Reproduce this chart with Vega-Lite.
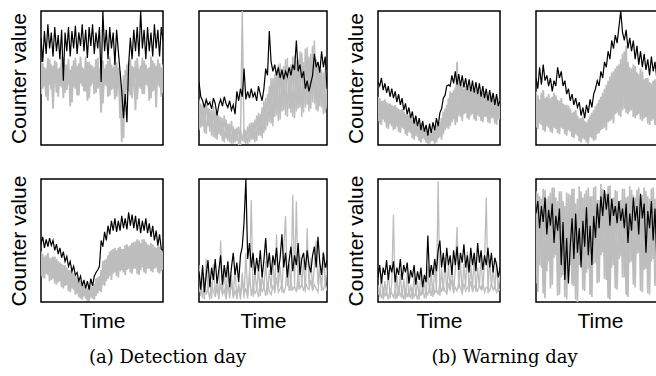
{
"$schema":"https://vega.github.io/schema/vega-lite/v6.json",
"padding":{"left":7,"top":10,"right":0,"bottom":0},
"background":"white",
"config":{
"view":{"stroke":"black","strokeWidth":1.5},
"axis":{"labels":false,"ticks":false,"domain":false,"grid":false,"titleFont":"Liberation Sans","titleFontSize":21,"titleFontWeight":"normal","titleColor":"black"},
"title":{"font":"DejaVu Serif","fontSize":18,"fontWeight":"normal","color":"black","orient":"bottom","anchor":"middle","offset":17}
},
"datasets":{
"p1":[{"t":0,"g":62,"h":38,"b":80},{"t":1,"g":42,"h":61,"b":62},{"t":2,"g":58,"h":44,"b":85},{"t":3,"g":36,"h":57,"b":68},{"t":4,"g":65,"h":33,"b":90},{"t":5,"g":45,"h":64,"b":72},{"t":6,"g":60,"h":41,"b":84},{"t":7,"g":27,"h":59,"b":66},{"t":8,"g":63,"h":46,"b":88},{"t":9,"g":39,"h":62,"b":70},{"t":10,"g":57,"h":36,"b":82},{"t":11,"g":44,"h":58,"b":64},{"t":12,"g":66,"h":43,"b":86},{"t":13,"g":35,"h":65,"b":48},{"t":14,"g":60,"h":39,"b":84},{"t":15,"g":41,"h":60,"b":70},{"t":16,"g":64,"h":45,"b":88},{"t":17,"g":29,"h":56,"b":66},{"t":18,"g":59,"h":32,"b":85},{"t":19,"g":43,"h":63,"b":72},{"t":20,"g":65,"h":42,"b":89},{"t":21,"g":37,"h":59,"b":68},{"t":22,"g":61,"h":37,"b":84},{"t":23,"g":46,"h":66,"b":74},{"t":24,"g":58,"h":44,"b":90},{"t":25,"g":40,"h":57,"b":70},{"t":26,"g":66,"h":40,"b":86},{"t":27,"g":33,"h":62,"b":65},{"t":28,"g":62,"h":35,"b":88},{"t":29,"g":44,"h":60,"b":74},{"t":30,"g":59,"h":46,"b":90},{"t":31,"g":38,"h":58,"b":68},{"t":32,"g":64,"h":39,"b":84},{"t":33,"g":42,"h":65,"b":72},{"t":34,"g":57,"h":43,"b":88},{"t":35,"g":24,"h":61,"b":47},{"t":36,"g":63,"h":31,"b":100},{"t":37,"g":45,"h":57,"b":70},{"t":38,"g":60,"h":44,"b":86},{"t":39,"g":36,"h":63,"b":64},{"t":40,"g":66,"h":37,"b":88},{"t":41,"g":41,"h":60,"b":72},{"t":42,"g":58,"h":42,"b":84},{"t":43,"g":34,"h":64,"b":60},{"t":44,"g":62,"h":36,"b":86},{"t":45,"g":44,"h":58,"b":70},{"t":46,"g":55,"h":20,"b":55},{"t":47,"g":2,"h":45,"b":40},{"t":48,"g":52,"h":5,"b":20},{"t":49,"g":31,"h":56,"b":38},{"t":50,"g":60,"h":41,"b":17},{"t":51,"g":40,"h":62,"b":60},{"t":52,"g":64,"h":37,"b":80},{"t":53,"g":35,"h":59,"b":64},{"t":54,"g":58,"h":45,"b":86},{"t":55,"g":26,"h":63,"b":70},{"t":56,"g":65,"h":34,"b":88},{"t":57,"g":43,"h":57,"b":66},{"t":58,"g":59,"h":42,"b":100},{"t":59,"g":38,"h":65,"b":72},{"t":60,"g":63,"h":38,"b":86},{"t":61,"g":45,"h":60,"b":64},{"t":62,"g":57,"h":44,"b":88},{"t":63,"g":33,"h":58,"b":70},{"t":64,"g":66,"h":35,"b":84},{"t":65,"g":40,"h":63,"b":66},{"t":66,"g":61,"h":41,"b":90},{"t":67,"g":28,"h":59,"b":72},{"t":68,"g":64,"h":45,"b":86},{"t":69,"g":43,"h":61,"b":66},{"t":70,"g":58,"h":36,"b":88},{"t":71,"g":39,"h":60,"b":78}],
"p2":[{"t":0,"g":34,"h":11,"b":47},{"t":1,"g":13,"h":31,"b":36},{"t":2,"g":30,"h":14,"b":33},{"t":3,"g":9,"h":29,"b":28},{"t":4,"g":33,"h":8,"b":34},{"t":5,"g":14,"h":28,"b":30},{"t":6,"g":27,"h":10,"b":32},{"t":7,"g":7,"h":26,"b":27},{"t":8,"g":29,"h":6,"b":35},{"t":9,"g":5,"h":25,"b":31},{"t":10,"g":24,"h":4,"b":22},{"t":11,"g":8,"h":22,"b":30},{"t":12,"g":21,"h":7,"b":34},{"t":13,"g":3,"h":20,"b":29},{"t":14,"g":22,"h":2,"b":36},{"t":15,"g":5,"h":19,"b":31},{"t":16,"g":16,"h":3,"b":28},{"t":17,"g":2,"h":16,"b":33},{"t":18,"g":18,"h":1,"b":26},{"t":19,"g":1,"h":14,"b":30},{"t":20,"g":12,"h":2,"b":23},{"t":21,"g":3,"h":13,"b":40},{"t":22,"g":14,"h":0,"b":33},{"t":23,"g":0,"h":11,"b":42},{"t":24,"g":100,"h":3,"b":36},{"t":25,"g":2,"h":12,"b":57},{"t":26,"g":11,"h":1,"b":34},{"t":27,"g":1,"h":14,"b":40},{"t":28,"g":16,"h":2,"b":35},{"t":29,"g":4,"h":17,"b":42},{"t":30,"g":17,"h":4,"b":36},{"t":31,"g":2,"h":19,"b":39},{"t":32,"g":22,"h":3,"b":33},{"t":33,"g":7,"h":24,"b":44},{"t":34,"g":23,"h":7,"b":38},{"t":35,"g":5,"h":28,"b":33},{"t":36,"g":33,"h":9,"b":42},{"t":37,"g":11,"h":35,"b":57},{"t":38,"g":38,"h":14,"b":52},{"t":39,"g":17,"h":44,"b":85},{"t":40,"g":50,"h":16,"b":62},{"t":41,"g":14,"h":50,"b":55},{"t":42,"g":53,"h":21,"b":60},{"t":43,"g":22,"h":56,"b":52},{"t":44,"g":60,"h":18,"b":58},{"t":45,"g":19,"h":61,"b":50},{"t":46,"g":57,"h":25,"b":56},{"t":47,"g":26,"h":59,"b":49},{"t":48,"g":64,"h":22,"b":55},{"t":49,"g":21,"h":65,"b":51},{"t":50,"g":55,"h":27,"b":58},{"t":51,"g":24,"h":60,"b":52},{"t":52,"g":66,"h":21,"b":60},{"t":53,"g":20,"h":67,"b":56},{"t":54,"g":63,"h":25,"b":78},{"t":55,"g":27,"h":64,"b":55},{"t":56,"g":70,"h":28,"b":60},{"t":57,"g":21,"h":69,"b":50},{"t":58,"g":62,"h":24,"b":55},{"t":59,"g":28,"h":72,"b":42},{"t":60,"g":73,"h":30,"b":48},{"t":61,"g":25,"h":66,"b":40},{"t":62,"g":68,"h":27,"b":46},{"t":63,"g":32,"h":74,"b":52},{"t":64,"g":78,"h":31,"b":68},{"t":65,"g":26,"h":64,"b":58},{"t":66,"g":60,"h":25,"b":62},{"t":67,"g":29,"h":59,"b":54},{"t":68,"g":56,"h":28,"b":70},{"t":69,"g":23,"h":54,"b":58},{"t":70,"g":57,"h":24,"b":66},{"t":71,"g":27,"h":56,"b":42}],
"p3":[{"t":0,"g":36,"h":18,"b":47},{"t":1,"g":16,"h":35,"b":44},{"t":2,"g":33,"h":15,"b":50},{"t":3,"g":19,"h":33,"b":41},{"t":4,"g":34,"h":17,"b":46},{"t":5,"g":13,"h":32,"b":39},{"t":6,"g":31,"h":12,"b":44},{"t":7,"g":16,"h":31,"b":36},{"t":8,"g":30,"h":14,"b":42},{"t":9,"g":11,"h":29,"b":35},{"t":10,"g":30,"h":12,"b":40},{"t":11,"g":14,"h":28,"b":32},{"t":12,"g":27,"h":10,"b":38},{"t":13,"g":9,"h":26,"b":30},{"t":14,"g":27,"h":13,"b":35},{"t":15,"g":12,"h":25,"b":26},{"t":16,"g":23,"h":8,"b":31},{"t":17,"g":7,"h":23,"b":23},{"t":18,"g":22,"h":10,"b":28},{"t":19,"g":9,"h":21,"b":20},{"t":20,"g":19,"h":5,"b":25},{"t":21,"g":4,"h":20,"b":16},{"t":22,"g":19,"h":7,"b":22},{"t":23,"g":6,"h":17,"b":14},{"t":24,"g":15,"h":3,"b":20},{"t":25,"g":2,"h":16,"b":11},{"t":26,"g":15,"h":5,"b":18},{"t":27,"g":4,"h":13,"b":10},{"t":28,"g":11,"h":2,"b":15},{"t":29,"g":1,"h":12,"b":7},{"t":30,"g":13,"h":1,"b":16},{"t":31,"g":3,"h":11,"b":9},{"t":32,"g":10,"h":3,"b":17},{"t":33,"g":1,"h":13,"b":11},{"t":34,"g":15,"h":2,"b":20},{"t":35,"g":5,"h":16,"b":14},{"t":36,"g":17,"h":6,"b":24},{"t":37,"g":4,"h":20,"b":27},{"t":38,"g":25,"h":8,"b":35},{"t":39,"g":11,"h":27,"b":37},{"t":40,"g":30,"h":13,"b":44},{"t":41,"g":12,"h":35,"b":45},{"t":42,"g":40,"h":14,"b":44},{"t":43,"g":17,"h":39,"b":52},{"t":44,"g":41,"h":19,"b":46},{"t":45,"g":15,"h":43,"b":55},{"t":46,"g":62,"h":17,"b":45},{"t":47,"g":22,"h":48,"b":53},{"t":48,"g":47,"h":21,"b":44},{"t":49,"g":18,"h":45,"b":52},{"t":50,"g":42,"h":23,"b":43},{"t":51,"g":24,"h":44,"b":50},{"t":52,"g":45,"h":20,"b":41},{"t":53,"g":19,"h":42,"b":49},{"t":54,"g":41,"h":22,"b":40},{"t":55,"g":23,"h":43,"b":48},{"t":56,"g":43,"h":19,"b":39},{"t":57,"g":18,"h":41,"b":47},{"t":58,"g":42,"h":22,"b":38},{"t":59,"g":21,"h":40,"b":46},{"t":60,"g":39,"h":18,"b":36},{"t":61,"g":17,"h":39,"b":44},{"t":62,"g":40,"h":21,"b":35},{"t":63,"g":21,"h":38,"b":42},{"t":64,"g":36,"h":17,"b":33},{"t":65,"g":16,"h":36,"b":41},{"t":66,"g":37,"h":20,"b":32},{"t":67,"g":20,"h":35,"b":39},{"t":68,"g":34,"h":16,"b":30},{"t":69,"g":15,"h":34,"b":38},{"t":70,"g":35,"h":19,"b":29},{"t":71,"g":19,"h":33,"b":33}],
"p4":[{"t":0,"g":40,"h":13,"b":50},{"t":1,"g":12,"h":37,"b":42},{"t":2,"g":34,"h":16,"b":58},{"t":3,"g":15,"h":39,"b":45},{"t":4,"g":41,"h":11,"b":60},{"t":5,"g":10,"h":35,"b":48},{"t":6,"g":36,"h":14,"b":52},{"t":7,"g":13,"h":38,"b":44},{"t":8,"g":35,"h":10,"b":50},{"t":9,"g":9,"h":36,"b":40},{"t":10,"g":39,"h":13,"b":48},{"t":11,"g":12,"h":37,"b":44},{"t":12,"g":34,"h":9,"b":58},{"t":13,"g":8,"h":33,"b":50},{"t":14,"g":35,"h":13,"b":55},{"t":15,"g":12,"h":31,"b":44},{"t":16,"g":30,"h":8,"b":48},{"t":17,"g":7,"h":30,"b":38},{"t":18,"g":29,"h":11,"b":42},{"t":19,"g":10,"h":27,"b":33},{"t":20,"g":24,"h":6,"b":38},{"t":21,"g":5,"h":25,"b":30},{"t":22,"g":26,"h":8,"b":35},{"t":23,"g":7,"h":22,"b":28},{"t":24,"g":20,"h":3,"b":32},{"t":25,"g":2,"h":20,"b":22},{"t":26,"g":21,"h":5,"b":28},{"t":27,"g":4,"h":18,"b":20},{"t":28,"g":17,"h":2,"b":30},{"t":29,"g":1,"h":19,"b":24},{"t":30,"g":22,"h":6,"b":34},{"t":31,"g":5,"h":24,"b":28},{"t":32,"g":26,"h":3,"b":38},{"t":33,"g":4,"h":29,"b":42},{"t":34,"g":31,"h":8,"b":48},{"t":35,"g":9,"h":34,"b":44},{"t":36,"g":36,"h":11,"b":55},{"t":37,"g":12,"h":39,"b":50},{"t":38,"g":42,"h":13,"b":62},{"t":39,"g":11,"h":45,"b":58},{"t":40,"g":48,"h":17,"b":70},{"t":41,"g":18,"h":51,"b":64},{"t":42,"g":54,"h":19,"b":78},{"t":43,"g":16,"h":55,"b":72},{"t":44,"g":57,"h":23,"b":82},{"t":45,"g":24,"h":59,"b":76},{"t":46,"g":60,"h":22,"b":88},{"t":47,"g":21,"h":64,"b":100},{"t":48,"g":68,"h":26,"b":84},{"t":49,"g":27,"h":70,"b":78},{"t":50,"g":74,"h":24,"b":86},{"t":51,"g":23,"h":62,"b":72},{"t":52,"g":58,"h":25,"b":80},{"t":53,"g":26,"h":57,"b":70},{"t":54,"g":60,"h":21,"b":78},{"t":55,"g":20,"h":59,"b":64},{"t":56,"g":54,"h":22,"b":74},{"t":57,"g":23,"h":53,"b":60},{"t":58,"g":57,"h":19,"b":70},{"t":59,"g":18,"h":55,"b":58},{"t":60,"g":49,"h":20,"b":68},{"t":61,"g":21,"h":50,"b":56},{"t":62,"g":50,"h":16,"b":64},{"t":63,"g":15,"h":47,"b":52},{"t":64,"g":46,"h":18,"b":66},{"t":65,"g":19,"h":48,"b":55},{"t":66,"g":49,"h":15,"b":62},{"t":67,"g":14,"h":45,"b":50},{"t":68,"g":43,"h":16,"b":64},{"t":69,"g":17,"h":43,"b":52},{"t":70,"g":44,"h":14,"b":58},{"t":71,"g":13,"h":42,"b":45}],
"p5":[{"t":0,"g":41,"h":21,"b":47},{"t":1,"g":20,"h":39,"b":53},{"t":2,"g":37,"h":19,"b":44},{"t":3,"g":23,"h":38,"b":51},{"t":4,"g":40,"h":22,"b":45},{"t":5,"g":17,"h":36,"b":52},{"t":6,"g":36,"h":18,"b":46},{"t":7,"g":19,"h":37,"b":50},{"t":8,"g":37,"h":15,"b":42},{"t":9,"g":14,"h":35,"b":47},{"t":10,"g":33,"h":16,"b":39},{"t":11,"g":17,"h":32,"b":44},{"t":12,"g":31,"h":12,"b":36},{"t":13,"g":11,"h":30,"b":41},{"t":14,"g":30,"h":13,"b":33},{"t":15,"g":14,"h":28,"b":37},{"t":16,"g":26,"h":9,"b":29},{"t":17,"g":8,"h":26,"b":33},{"t":18,"g":27,"h":11,"b":25},{"t":19,"g":10,"h":23,"b":29},{"t":20,"g":21,"h":6,"b":22},{"t":21,"g":7,"h":20,"b":24},{"t":22,"g":19,"h":4,"b":17},{"t":23,"g":3,"h":17,"b":21},{"t":24,"g":16,"h":2,"b":13},{"t":25,"g":5,"h":13,"b":18},{"t":26,"g":11,"h":3,"b":11},{"t":27,"g":1,"h":11,"b":17},{"t":28,"g":14,"h":1,"b":10},{"t":29,"g":4,"h":13,"b":19},{"t":30,"g":12,"h":3,"b":13},{"t":31,"g":2,"h":15,"b":21},{"t":32,"g":19,"h":5,"b":24},{"t":33,"g":7,"h":20,"b":26},{"t":34,"g":21,"h":9,"b":29},{"t":35,"g":8,"h":26,"b":50},{"t":36,"g":33,"h":14,"b":45},{"t":37,"g":13,"h":34,"b":57},{"t":38,"g":35,"h":17,"b":50},{"t":39,"g":19,"h":38,"b":62},{"t":40,"g":41,"h":21,"b":55},{"t":41,"g":18,"h":42,"b":66},{"t":42,"g":43,"h":23,"b":58},{"t":43,"g":24,"h":44,"b":68},{"t":44,"g":42,"h":21,"b":57},{"t":45,"g":20,"h":44,"b":66},{"t":46,"g":45,"h":25,"b":58},{"t":47,"g":26,"h":43,"b":70},{"t":48,"g":43,"h":24,"b":60},{"t":49,"g":22,"h":46,"b":68},{"t":50,"g":47,"h":26,"b":59},{"t":51,"g":27,"h":45,"b":73},{"t":52,"g":46,"h":24,"b":62},{"t":53,"g":23,"h":48,"b":71},{"t":54,"g":49,"h":27,"b":60},{"t":55,"g":27,"h":49,"b":70},{"t":56,"g":51,"h":23,"b":58},{"t":57,"g":22,"h":50,"b":68},{"t":58,"g":48,"h":26,"b":56},{"t":59,"g":28,"h":51,"b":66},{"t":60,"g":51,"h":24,"b":58},{"t":61,"g":23,"h":49,"b":68},{"t":62,"g":47,"h":27,"b":56},{"t":63,"g":27,"h":46,"b":64},{"t":64,"g":48,"h":25,"b":53},{"t":65,"g":24,"h":47,"b":62},{"t":66,"g":45,"h":27,"b":50},{"t":67,"g":28,"h":44,"b":58},{"t":68,"g":46,"h":24,"b":46},{"t":69,"g":23,"h":45,"b":55},{"t":70,"g":42,"h":25,"b":43},{"t":71,"g":26,"h":41,"b":42}],
"p6":[{"t":0,"g":30,"h":8,"b":25},{"t":1,"g":5,"h":14,"b":10},{"t":2,"g":24,"h":3,"b":30},{"t":3,"g":2,"h":20,"b":8},{"t":4,"g":35,"h":6,"b":22},{"t":5,"g":8,"h":11,"b":34},{"t":6,"g":20,"h":2,"b":12},{"t":7,"g":3,"h":16,"b":28},{"t":8,"g":31,"h":9,"b":18},{"t":9,"g":6,"h":4,"b":35},{"t":10,"g":18,"h":12,"b":15},{"t":11,"g":2,"h":3,"b":26},{"t":12,"g":50,"h":15,"b":38},{"t":13,"g":7,"h":6,"b":14},{"t":14,"g":26,"h":10,"b":30},{"t":15,"g":4,"h":2,"b":20},{"t":16,"g":32,"h":14,"b":33},{"t":17,"g":3,"h":5,"b":12},{"t":18,"g":17,"h":22,"b":28},{"t":19,"g":5,"h":3,"b":40},{"t":20,"g":27,"h":9,"b":22},{"t":21,"g":2,"h":4,"b":32},{"t":22,"g":15,"h":13,"b":16},{"t":23,"g":6,"h":2,"b":38},{"t":24,"g":24,"h":18,"b":45},{"t":25,"g":3,"h":6,"b":65},{"t":26,"g":40,"h":11,"b":100},{"t":27,"g":5,"h":3,"b":35},{"t":28,"g":18,"h":25,"b":48},{"t":29,"g":83,"h":5,"b":28},{"t":30,"g":4,"h":14,"b":40},{"t":31,"g":25,"h":7,"b":22},{"t":32,"g":9,"h":10,"b":36},{"t":33,"g":28,"h":4,"b":25},{"t":34,"g":5,"h":19,"b":42},{"t":35,"g":22,"h":8,"b":20},{"t":36,"g":10,"h":12,"b":34},{"t":37,"g":33,"h":5,"b":52},{"t":38,"g":6,"h":16,"b":28},{"t":39,"g":26,"h":9,"b":40},{"t":40,"g":11,"h":6,"b":22},{"t":41,"g":36,"h":13,"b":38},{"t":42,"g":7,"h":9,"b":30},{"t":43,"g":55,"h":20,"b":44},{"t":44,"g":12,"h":8,"b":24},{"t":45,"g":29,"h":11,"b":36},{"t":46,"g":8,"h":14,"b":55},{"t":47,"g":42,"h":7,"b":28},{"t":48,"g":70,"h":12,"b":40},{"t":49,"g":13,"h":30,"b":20},{"t":50,"g":31,"h":9,"b":34},{"t":51,"g":9,"h":15,"b":45},{"t":52,"g":87,"h":10,"b":25},{"t":53,"g":14,"h":13,"b":38},{"t":54,"g":82,"h":8,"b":30},{"t":55,"g":10,"h":22,"b":48},{"t":56,"g":38,"h":11,"b":22},{"t":57,"g":12,"h":14,"b":35},{"t":58,"g":34,"h":9,"b":40},{"t":59,"g":8,"h":16,"b":26},{"t":60,"g":60,"h":12,"b":42},{"t":61,"g":13,"h":10,"b":30},{"t":62,"g":36,"h":18,"b":24},{"t":63,"g":10,"h":9,"b":38},{"t":64,"g":30,"h":14,"b":45},{"t":65,"g":50,"h":11,"b":28},{"t":66,"g":14,"h":8,"b":53},{"t":67,"g":33,"h":26,"b":32},{"t":68,"g":9,"h":12,"b":22},{"t":69,"g":41,"h":10,"b":40},{"t":70,"g":13,"h":15,"b":28},{"t":71,"g":28,"h":9,"b":34}],
"p7":[{"t":0,"g":14,"h":6,"b":20},{"t":1,"g":4,"h":10,"b":30},{"t":2,"g":23,"h":3,"b":15},{"t":3,"g":2,"h":12,"b":28},{"t":4,"g":17,"h":5,"b":22},{"t":5,"g":5,"h":8,"b":34},{"t":6,"g":26,"h":2,"b":18},{"t":7,"g":3,"h":11,"b":30},{"t":8,"g":15,"h":7,"b":24},{"t":9,"g":71,"h":4,"b":33},{"t":10,"g":2,"h":9,"b":16},{"t":11,"g":21,"h":3,"b":28},{"t":12,"g":5,"h":13,"b":22},{"t":13,"g":23,"h":5,"b":35},{"t":14,"g":3,"h":8,"b":18},{"t":15,"g":19,"h":2,"b":30},{"t":16,"g":2,"h":11,"b":24},{"t":17,"g":24,"h":4,"b":32},{"t":18,"g":4,"h":9,"b":15},{"t":19,"g":14,"h":3,"b":26},{"t":20,"g":2,"h":12,"b":20},{"t":21,"g":21,"h":4,"b":30},{"t":22,"g":5,"h":7,"b":14},{"t":23,"g":17,"h":2,"b":25},{"t":24,"g":2,"h":10,"b":18},{"t":25,"g":25,"h":5,"b":28},{"t":26,"g":6,"h":14,"b":12},{"t":27,"g":18,"h":3,"b":22},{"t":28,"g":3,"h":9,"b":16},{"t":29,"g":29,"h":6,"b":54},{"t":30,"g":7,"h":12,"b":20},{"t":31,"g":24,"h":5,"b":30},{"t":32,"g":4,"h":15,"b":22},{"t":33,"g":31,"h":7,"b":35},{"t":34,"g":8,"h":10,"b":25},{"t":35,"g":98,"h":6,"b":42},{"t":36,"g":5,"h":16,"b":50},{"t":37,"g":27,"h":8,"b":28},{"t":38,"g":9,"h":13,"b":40},{"t":39,"g":36,"h":9,"b":24},{"t":40,"g":6,"h":7,"b":44},{"t":41,"g":31,"h":14,"b":30},{"t":42,"g":10,"h":10,"b":38},{"t":43,"g":30,"h":18,"b":22},{"t":44,"g":7,"h":8,"b":42},{"t":45,"g":27,"h":12,"b":30},{"t":46,"g":61,"h":9,"b":45},{"t":47,"g":11,"h":16,"b":26},{"t":48,"g":33,"h":11,"b":40},{"t":49,"g":7,"h":7,"b":32},{"t":50,"g":31,"h":15,"b":47},{"t":51,"g":12,"h":9,"b":28},{"t":52,"g":41,"h":12,"b":38},{"t":53,"g":8,"h":10,"b":24},{"t":54,"g":30,"h":17,"b":44},{"t":55,"g":11,"h":8,"b":30},{"t":56,"g":37,"h":13,"b":40},{"t":57,"g":8,"h":11,"b":25},{"t":58,"g":28,"h":9,"b":48},{"t":59,"g":12,"h":14,"b":32},{"t":60,"g":39,"h":10,"b":42},{"t":61,"g":10,"h":16,"b":26},{"t":62,"g":32,"h":8,"b":38},{"t":63,"g":85,"h":12,"b":30},{"t":64,"g":7,"h":11,"b":44},{"t":65,"g":35,"h":9,"b":28},{"t":66,"g":12,"h":15,"b":40},{"t":67,"g":28,"h":10,"b":24},{"t":68,"g":10,"h":13,"b":36},{"t":69,"g":33,"h":8,"b":30},{"t":70,"g":8,"h":12,"b":20},{"t":71,"g":24,"h":9,"b":28}],
"p8":[{"t":0,"g":90,"h":15,"b":72},{"t":1,"g":8,"h":88,"b":82},{"t":2,"g":86,"h":30,"b":60},{"t":3,"g":28,"h":84,"b":78},{"t":4,"g":92,"h":7,"b":65},{"t":5,"g":3,"h":91,"b":85},{"t":6,"g":84,"h":25,"b":55},{"t":7,"g":33,"h":86,"b":75},{"t":8,"g":89,"h":11,"b":62},{"t":9,"g":14,"h":93,"b":80},{"t":10,"g":93,"h":36,"b":48},{"t":11,"g":38,"h":85,"b":70},{"t":12,"g":82,"h":5,"b":58},{"t":13,"g":6,"h":90,"b":76},{"t":14,"g":90,"h":20,"b":30},{"t":15,"g":22,"h":82,"b":65},{"t":16,"g":78,"h":4,"b":18},{"t":17,"g":2,"h":89,"b":52},{"t":18,"g":88,"h":28,"b":15},{"t":19,"g":30,"h":87,"b":45},{"t":20,"g":92,"h":14,"b":68},{"t":21,"g":13,"h":92,"b":35},{"t":22,"g":80,"h":2,"b":72},{"t":23,"g":0,"h":84,"b":40},{"t":24,"g":94,"h":30,"b":60},{"t":25,"g":35,"h":90,"b":28},{"t":26,"g":85,"h":10,"b":66},{"t":27,"g":9,"h":88,"b":45},{"t":28,"g":91,"h":24,"b":77},{"t":29,"g":27,"h":93,"b":38},{"t":30,"g":86,"h":6,"b":62},{"t":31,"g":4,"h":86,"b":30},{"t":32,"g":93,"h":31,"b":70},{"t":33,"g":32,"h":94,"b":52},{"t":34,"g":83,"h":15,"b":80},{"t":35,"g":16,"h":83,"b":60},{"t":36,"g":96,"h":38,"b":86},{"t":37,"g":40,"h":92,"b":70},{"t":38,"g":87,"h":19,"b":91},{"t":39,"g":18,"h":88,"b":75},{"t":40,"g":94,"h":3,"b":88},{"t":41,"g":2,"h":95,"b":62},{"t":42,"g":84,"h":28,"b":84},{"t":43,"g":30,"h":85,"b":70},{"t":44,"g":91,"h":11,"b":78},{"t":45,"g":10,"h":90,"b":64},{"t":46,"g":82,"h":35,"b":82},{"t":47,"g":37,"h":83,"b":66},{"t":48,"g":92,"h":20,"b":76},{"t":49,"g":20,"h":92,"b":60},{"t":50,"g":85,"h":6,"b":80},{"t":51,"g":4,"h":86,"b":48},{"t":52,"g":94,"h":32,"b":72},{"t":53,"g":33,"h":91,"b":58},{"t":54,"g":87,"h":14,"b":85},{"t":55,"g":12,"h":85,"b":66},{"t":56,"g":91,"h":39,"b":78},{"t":57,"g":40,"h":93,"b":55},{"t":58,"g":84,"h":9,"b":88},{"t":59,"g":8,"h":87,"b":68},{"t":60,"g":93,"h":26,"b":80},{"t":61,"g":27,"h":90,"b":40},{"t":62,"g":86,"h":7,"b":74},{"t":63,"g":6,"h":84,"b":60},{"t":64,"g":92,"h":33,"b":82},{"t":65,"g":35,"h":93,"b":50},{"t":66,"g":84,"h":13,"b":76},{"t":67,"g":14,"h":86,"b":35},{"t":68,"g":91,"h":29,"b":70},{"t":69,"g":30,"h":91,"b":45},{"t":70,"g":86,"h":18,"b":62},{"t":71,"g":22,"h":85,"b":30}]
},
"spacing":16,
"hconcat":[
{"title":{"text":"(a) Detection day","orient":"bottom","anchor":"middle"},"spacing":28,"vconcat":[
{"spacing":34,"hconcat":[
{"width":122,"height":134,"data":{"name":"p1"},"encoding":{"x":{"field":"t","type":"quantitative","scale":{"domain":[0,71],"nice":false,"zero":false},"axis":null}},"layer":[
{"mark":{"type":"line","color":"#bdbdbd","strokeWidth":1.8,"clip":true},"encoding":{"y":{"field":"g","type":"quantitative","scale":{"domain":[0,100],"nice":false,"zero":false},"axis":{"title":"Counter value","titlePadding":12}}}},
{"mark":{"type":"line","color":"#bdbdbd","strokeWidth":1.8,"clip":true},"encoding":{"y":{"field":"h","type":"quantitative","scale":{"domain":[0,100],"nice":false,"zero":false},"axis":{"title":"Counter value","titlePadding":12}}}},
{"mark":{"type":"line","color":"black","strokeWidth":1.2,"clip":true},"encoding":{"y":{"field":"b","type":"quantitative","scale":{"domain":[0,100],"nice":false,"zero":false},"axis":{"title":"Counter value","titlePadding":12}}}}]},
{"width":128,"height":134,"data":{"name":"p2"},"encoding":{"x":{"field":"t","type":"quantitative","scale":{"domain":[0,71],"nice":false,"zero":false},"axis":null}},"layer":[
{"mark":{"type":"line","color":"#bdbdbd","strokeWidth":1.5,"clip":true},"encoding":{"y":{"field":"g","type":"quantitative","scale":{"domain":[0,100],"nice":false,"zero":false},"axis":null}}},
{"mark":{"type":"line","color":"#bdbdbd","strokeWidth":1.5,"clip":true},"encoding":{"y":{"field":"h","type":"quantitative","scale":{"domain":[0,100],"nice":false,"zero":false},"axis":null}}},
{"mark":{"type":"line","color":"black","strokeWidth":1.2,"clip":true},"encoding":{"y":{"field":"b","type":"quantitative","scale":{"domain":[0,100],"nice":false,"zero":false},"axis":null}}}]}]},
{"spacing":34,"hconcat":[
{"width":122,"height":123,"data":{"name":"p5"},"encoding":{"x":{"field":"t","type":"quantitative","scale":{"domain":[0,71],"nice":false,"zero":false},"axis":{"title":"Time","titlePadding":8}}},"layer":[
{"mark":{"type":"line","color":"#bdbdbd","strokeWidth":1.8,"clip":true},"encoding":{"y":{"field":"g","type":"quantitative","scale":{"domain":[0,100],"nice":false,"zero":false},"axis":{"title":"Counter value","titlePadding":12}}}},
{"mark":{"type":"line","color":"#bdbdbd","strokeWidth":1.8,"clip":true},"encoding":{"y":{"field":"h","type":"quantitative","scale":{"domain":[0,100],"nice":false,"zero":false},"axis":{"title":"Counter value","titlePadding":12}}}},
{"mark":{"type":"line","color":"black","strokeWidth":1.2,"clip":true},"encoding":{"y":{"field":"b","type":"quantitative","scale":{"domain":[0,100],"nice":false,"zero":false},"axis":{"title":"Counter value","titlePadding":12}}}}]},
{"width":128,"height":123,"data":{"name":"p6"},"encoding":{"x":{"field":"t","type":"quantitative","scale":{"domain":[0,71],"nice":false,"zero":false},"axis":{"title":"Time","titlePadding":8}}},"layer":[
{"mark":{"type":"line","color":"#bdbdbd","strokeWidth":1.3,"clip":true},"encoding":{"y":{"field":"g","type":"quantitative","scale":{"domain":[0,100],"nice":false,"zero":false},"axis":null}}},
{"mark":{"type":"line","color":"#bdbdbd","strokeWidth":1.3,"clip":true},"encoding":{"y":{"field":"h","type":"quantitative","scale":{"domain":[0,100],"nice":false,"zero":false},"axis":null}}},
{"mark":{"type":"line","color":"black","strokeWidth":1.2,"clip":true},"encoding":{"y":{"field":"b","type":"quantitative","scale":{"domain":[0,100],"nice":false,"zero":false},"axis":null}}}]}]}]},
{"title":{"text":"(b) Warning day","orient":"bottom","anchor":"middle"},"spacing":28,"vconcat":[
{"spacing":34,"hconcat":[
{"width":122,"height":134,"data":{"name":"p3"},"encoding":{"x":{"field":"t","type":"quantitative","scale":{"domain":[0,71],"nice":false,"zero":false},"axis":null}},"layer":[
{"mark":{"type":"line","color":"#bdbdbd","strokeWidth":1.8,"clip":true},"encoding":{"y":{"field":"g","type":"quantitative","scale":{"domain":[0,100],"nice":false,"zero":false},"axis":{"title":"Counter value","titlePadding":12}}}},
{"mark":{"type":"line","color":"#bdbdbd","strokeWidth":1.8,"clip":true},"encoding":{"y":{"field":"h","type":"quantitative","scale":{"domain":[0,100],"nice":false,"zero":false},"axis":{"title":"Counter value","titlePadding":12}}}},
{"mark":{"type":"line","color":"black","strokeWidth":1.2,"clip":true},"encoding":{"y":{"field":"b","type":"quantitative","scale":{"domain":[0,100],"nice":false,"zero":false},"axis":{"title":"Counter value","titlePadding":12}}}}]},
{"width":128,"height":134,"data":{"name":"p4"},"encoding":{"x":{"field":"t","type":"quantitative","scale":{"domain":[0,71],"nice":false,"zero":false},"axis":null}},"layer":[
{"mark":{"type":"line","color":"#bdbdbd","strokeWidth":1.8,"clip":true},"encoding":{"y":{"field":"g","type":"quantitative","scale":{"domain":[0,100],"nice":false,"zero":false},"axis":null}}},
{"mark":{"type":"line","color":"#bdbdbd","strokeWidth":1.8,"clip":true},"encoding":{"y":{"field":"h","type":"quantitative","scale":{"domain":[0,100],"nice":false,"zero":false},"axis":null}}},
{"mark":{"type":"line","color":"black","strokeWidth":1.2,"clip":true},"encoding":{"y":{"field":"b","type":"quantitative","scale":{"domain":[0,100],"nice":false,"zero":false},"axis":null}}}]}]},
{"spacing":34,"hconcat":[
{"width":122,"height":123,"data":{"name":"p7"},"encoding":{"x":{"field":"t","type":"quantitative","scale":{"domain":[0,71],"nice":false,"zero":false},"axis":{"title":"Time","titlePadding":8}}},"layer":[
{"mark":{"type":"line","color":"#bdbdbd","strokeWidth":1.3,"clip":true},"encoding":{"y":{"field":"g","type":"quantitative","scale":{"domain":[0,100],"nice":false,"zero":false},"axis":{"title":"Counter value","titlePadding":12}}}},
{"mark":{"type":"line","color":"#bdbdbd","strokeWidth":1.3,"clip":true},"encoding":{"y":{"field":"h","type":"quantitative","scale":{"domain":[0,100],"nice":false,"zero":false},"axis":{"title":"Counter value","titlePadding":12}}}},
{"mark":{"type":"line","color":"black","strokeWidth":1.2,"clip":true},"encoding":{"y":{"field":"b","type":"quantitative","scale":{"domain":[0,100],"nice":false,"zero":false},"axis":{"title":"Counter value","titlePadding":12}}}}]},
{"width":128,"height":123,"data":{"name":"p8"},"encoding":{"x":{"field":"t","type":"quantitative","scale":{"domain":[0,71],"nice":false,"zero":false},"axis":{"title":"Time","titlePadding":8}}},"layer":[
{"mark":{"type":"line","color":"#bdbdbd","strokeWidth":1.7,"clip":true},"encoding":{"y":{"field":"g","type":"quantitative","scale":{"domain":[0,100],"nice":false,"zero":false},"axis":null}}},
{"mark":{"type":"line","color":"#bdbdbd","strokeWidth":1.7,"clip":true},"encoding":{"y":{"field":"h","type":"quantitative","scale":{"domain":[0,100],"nice":false,"zero":false},"axis":null}}},
{"mark":{"type":"line","color":"black","strokeWidth":1.2,"clip":true},"encoding":{"y":{"field":"b","type":"quantitative","scale":{"domain":[0,100],"nice":false,"zero":false},"axis":null}}}]}]}]}
]
}
